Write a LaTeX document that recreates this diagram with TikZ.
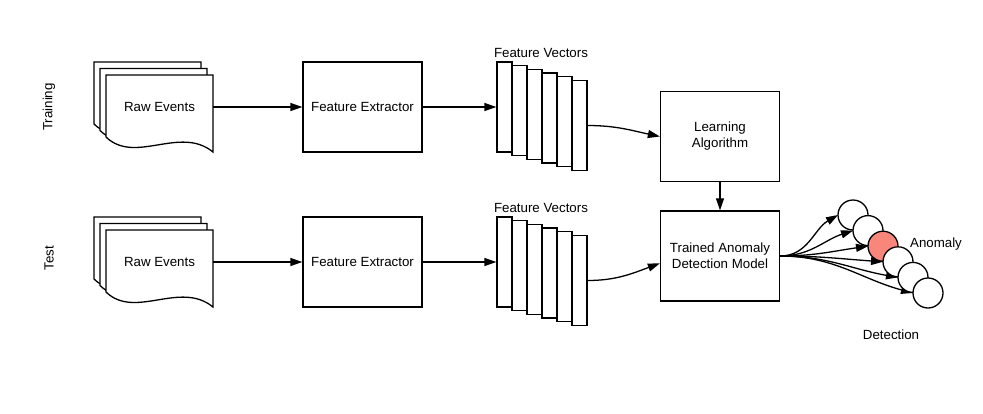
\documentclass[tikz,border=0pt]{standalone}
\usepackage{fontspec}
\setmainfont{Liberation Sans}
\usetikzlibrary{arrows.meta}
\definecolor{anom}{RGB}{248,134,122}
\newcommand\lbl{\fontsize{13.3}{16}\selectfont}
\tikzset{
  ln/.style={line width=1.3pt},
  box/.style={draw, ln, fill=white, minimum width=119pt, minimum height=90pt, inner sep=0pt, align=center, font=\lbl},
  vecbox/.style={draw, ln, fill=white, minimum width=15pt, minimum height=90pt, inner sep=0pt},
  arr/.style={ln, -{Triangle[length=12pt,width=8pt]}},
  circ/.style={draw, ln, circle, fill=white, minimum size=30pt, inner sep=0pt},
  lbl/.style={font=\lbl, inner sep=0pt},
  docshape/.style={draw, ln, fill=white, line join=miter}
}
\newcommand\docpath[2]{%
  \begin{scope}[shift={(#1,#2)}]
    \draw[docshape] (106,75) -- (213,75) -- (213,152)
      .. controls (180,125) and (135,165) .. (106,137) -- cycle;
  \end{scope}}
\begin{document}
\begin{tikzpicture}[x=1pt,y=-1pt]
\useasboundingbox (0,0) rectangle (983,413);

% row labels
\node[lbl, rotate=90] (trn) at (49,107) {Training};
\node[lbl, rotate=90] (tst) at (49,258) {Test};

% raw event stacks
\docpath{-12}{-13}\docpath{-6}{-6.5}\docpath{0}{0}
\docpath{-12}{142}\docpath{-6}{148.5}\docpath{0}{155}
\node[lbl, minimum width=107pt] (raw1) at (159.5,107) {Raw Events};
\node[lbl, minimum width=107pt] (raw2) at (159.5,262) {Raw Events};

% feature extractors
\node[box] (fe1) at (362.5,107) {Feature Extractor};
\node[box] (fe2) at (362.5,262) {Feature Extractor};

% feature vectors
\foreach \k in {0,...,5} {
  \node[vecbox] (va\k) at ({504.5+15*\k},{107+3.7*\k}) {};
  \node[vecbox] (vb\k) at ({504.5+15*\k},{262+3.7*\k}) {};
}
\node[lbl] (fv1) at (541,53) {Feature Vectors};
\node[lbl] (fv2) at (541,208) {Feature Vectors};

% learning and model
\node[box] (la) at (720,136.5) {Learning\\Algorithm};
\node[box] (tm) at (720,256) {Trained Anomaly\\Detection Model};

% connectors
\draw[arr] (raw1.east) -- (fe1.west);
\draw[arr] (raw2.east) -- (fe2.west);
\draw[arr] (fe1.east) -- (va0.west);
\draw[arr] (fe2.east) -- (vb0.west);
\draw[arr] (va5.east) to[out=0,in=168] (la.west);
\draw[arr] (vb5.east) to[out=0,in=200] (tm.187);
\draw[arr] (la.south) -- (tm.north);

% detection circles
\foreach \k in {1,...,6} {
  \pgfmathsetmacro\cx{853+15*(\k-1)}
  \pgfmathsetmacro\cy{215+15.6*(\k-1)}
  \coordinate (q\k) at (\cx-15,\cy);
  \coordinate (m\k) at (\cx,\cy);
}
\foreach \k/\a in {1/210,2/198,3/188,4/176,5/170,6/165}
  \draw[arr] (tm.east) to[out=0,in=\a] (q\k);
\foreach \k in {1,...,6} {
  \ifnum\k=3
    \node[circ, fill=anom] (c\k) at (m\k) {};
  \else
    \node[circ] (c\k) at (m\k) {};
  \fi
}
\node[lbl] (an) at (936,244) {Anomaly};
\node[lbl] (det) at (891,335) {Detection};
\end{tikzpicture}
\end{document}
